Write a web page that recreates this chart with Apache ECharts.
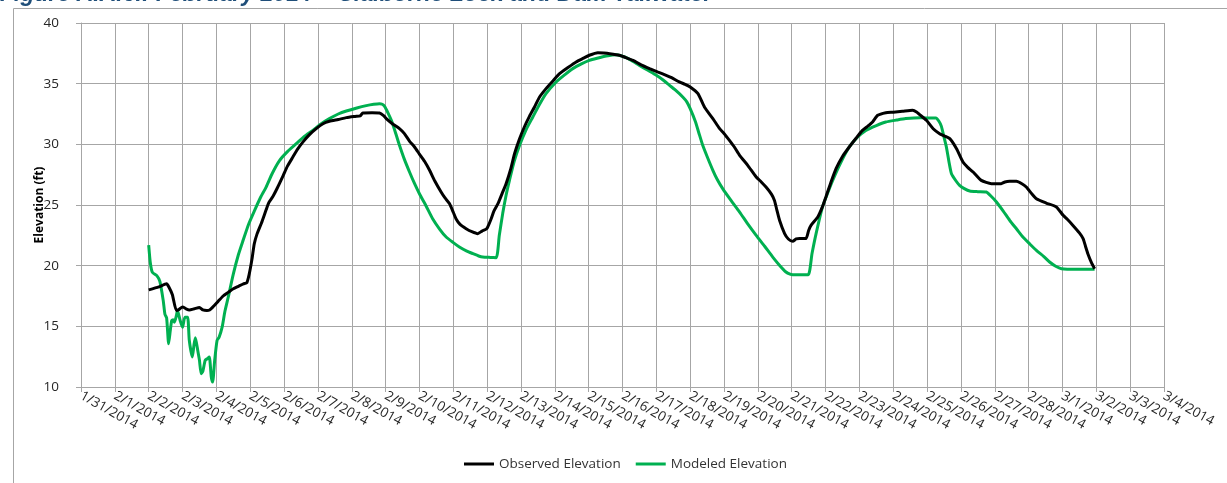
<!DOCTYPE html>
<html>
<head>
<meta charset="utf-8">
<script src="https://cdn.jsdelivr.net/npm/echarts@6/dist/echarts.min.js"></script>
<style>
html,body{margin:0;padding:0;background:#fff;}
#chart{width:1227px;height:483px;}
</style>
</head>
<body>
<div id="chart"></div>
<script>
// ---- data ----
const dateLabels = ["1/31/2014","2/1/2014","2/2/2014","2/3/2014","2/4/2014","2/5/2014","2/6/2014","2/7/2014","2/8/2014","2/9/2014","2/10/2014","2/11/2014","2/12/2014","2/13/2014","2/14/2014","2/15/2014","2/16/2014","2/17/2014","2/18/2014","2/19/2014","2/20/2014","2/21/2014","2/22/2014","2/23/2014","2/24/2014","2/25/2014","2/26/2014","2/27/2014","2/28/2014","3/1/2014","3/2/2014","3/3/2014","3/4/2014"];

const observedDays = [2.00,2.3,2.53,2.6,2.7,2.82,2.9,3.0,3.1,3.2,3.35,3.5,3.6,3.72,3.8,3.9,4.05,4.2,4.35,4.5,4.65,4.8,4.9,4.97,5.05,5.12,5.2,5.33,5.47,5.55,5.67,5.8,5.97,6.1,6.26,6.4,6.56,6.75,6.95,7.15,7.34,7.6,7.84,8.1,8.25,8.33,8.6,8.82,8.95,9.02,9.2,9.41,9.55,9.71,9.85,10.0,10.15,10.3,10.45,10.64,10.75,10.89,11.0,11.08,11.2,11.38,11.55,11.72,11.85,11.99,12.12,12.2,12.32,12.45,12.56,12.7,12.81,12.95,13.1,13.25,13.4,13.55,13.74,13.95,14.14,14.4,14.63,14.85,15.02,15.27,15.45,15.62,15.91,16.1,16.31,16.55,16.8,17.05,17.29,17.45,17.68,17.85,18.0,18.23,18.42,18.67,18.87,19.0,19.16,19.3,19.46,19.7,19.95,20.1,20.24,20.4,20.49,20.56,20.64,20.79,20.9,21.03,21.13,21.23,21.42,21.5,21.57,21.77,21.9,22.01,22.15,22.31,22.5,22.7,22.9,23.09,23.25,23.39,23.54,23.78,24.0,24.27,24.57,24.7,24.78,24.98,25.18,25.37,25.5,25.67,25.87,26.06,26.2,26.36,26.6,26.9,27.19,27.3,27.44,27.64,27.8,27.93,28.1,28.23,28.52,28.82,29.02,29.15,29.31,29.5,29.61,29.68,29.75,29.85,29.95];
const observedVals = [18.0,18.25,18.5,18.22,17.6,16.3,16.4,16.6,16.45,16.35,16.45,16.55,16.35,16.3,16.35,16.6,17.05,17.5,17.8,18.1,18.3,18.5,18.6,19.3,20.5,21.8,22.6,23.5,24.6,25.2,25.7,26.4,27.4,28.2,28.95,29.6,30.2,30.8,31.3,31.7,31.9,32.05,32.2,32.3,32.35,32.58,32.6,32.58,32.35,32.12,31.7,31.3,30.9,30.25,29.8,29.2,28.6,27.86,27.0,26.07,25.6,25.11,24.4,23.87,23.4,23.05,22.8,22.64,22.85,23.05,23.87,24.5,25.11,26.0,26.76,28.0,29.23,30.4,31.43,32.3,33.08,33.9,34.59,35.25,35.82,36.35,36.79,37.1,37.34,37.55,37.52,37.47,37.34,37.15,36.92,36.55,36.24,35.95,35.69,35.5,35.14,34.95,34.73,34.18,33.08,32.12,31.29,30.9,30.33,29.8,29.09,28.27,27.31,26.9,26.48,25.9,25.38,24.6,23.74,22.64,22.2,22.01,22.2,22.23,22.23,22.9,23.32,24.01,24.8,25.66,26.8,27.99,29.0,29.78,30.5,31.15,31.5,31.84,32.39,32.61,32.65,32.72,32.8,32.65,32.45,31.98,31.29,30.88,30.7,30.47,29.64,28.54,28.1,27.72,27.03,26.76,26.76,26.9,26.95,26.95,26.75,26.48,25.9,25.52,25.16,24.84,24.15,23.8,23.32,22.7,22.23,21.6,20.99,20.3,19.75];

const modeledDays = [2.0,2.05,2.11,2.24,2.33,2.43,2.48,2.53,2.59,2.64,2.68,2.72,2.76,2.82,2.85,2.93,3.0,3.07,3.15,3.2,3.29,3.34,3.38,3.45,3.5,3.55,3.6,3.67,3.73,3.79,3.85,3.89,3.95,4.02,4.08,4.17,4.25,4.35,4.5,4.65,4.79,4.95,5.13,5.3,5.47,5.65,5.87,6.1,6.36,6.6,6.85,7.1,7.34,7.6,7.84,8.15,8.43,8.65,8.82,8.9,8.97,9.07,9.17,9.3,9.41,9.55,9.71,9.85,10.0,10.2,10.39,10.6,10.79,11.0,11.18,11.4,11.58,11.75,11.87,12.1,12.27,12.36,12.46,12.56,12.66,12.8,12.96,13.15,13.35,13.55,13.74,14.04,14.3,14.53,14.8,15.02,15.25,15.52,15.81,15.95,16.11,16.3,16.5,16.75,17.0,17.2,17.39,17.55,17.78,17.9,18.0,18.15,18.25,18.37,18.5,18.67,18.8,18.96,19.2,19.46,19.7,19.95,20.2,20.44,20.65,20.83,20.95,21.03,21.3,21.49,21.6,21.72,21.91,22.05,22.21,22.45,22.7,22.95,23.19,23.5,23.78,24.1,24.37,24.78,25.0,25.26,25.35,25.42,25.5,25.57,25.65,25.72,25.85,25.96,26.1,26.26,26.5,26.75,26.9,27.05,27.25,27.44,27.65,27.83,28.03,28.23,28.45,28.62,28.8,28.97,29.41,29.95];
const modeledVals = [21.7,20.2,19.45,19.18,18.7,17.12,16.0,15.7,13.56,14.7,15.48,15.55,15.34,15.9,16.3,15.48,14.93,15.75,15.75,13.84,12.47,13.5,14.05,13.0,12.2,11.1,11.3,12.2,12.33,12.47,10.82,10.41,12.2,13.84,14.1,14.93,16.2,17.4,19.3,20.9,22.09,23.4,24.56,25.6,26.48,27.6,28.68,29.4,30.05,30.65,31.15,31.7,32.12,32.5,32.75,33.0,33.19,33.3,33.35,33.3,33.13,32.6,31.98,30.9,29.92,28.8,27.7,26.8,25.93,24.9,23.87,23.0,22.36,21.9,21.54,21.2,20.99,20.8,20.71,20.68,20.66,22.5,24.29,25.8,27.03,28.6,29.92,31.2,32.25,33.3,34.18,35.14,35.75,36.24,36.65,36.92,37.1,37.28,37.39,37.3,37.14,36.85,36.51,36.1,35.69,35.3,34.86,34.5,33.9,33.5,32.94,31.9,31.0,29.92,29.0,27.86,27.1,26.35,25.4,24.42,23.45,22.5,21.6,20.71,20.0,19.48,19.3,19.26,19.26,19.26,21.0,22.64,24.84,25.9,27.03,28.5,29.78,30.6,31.15,31.55,31.84,32.0,32.12,32.2,32.17,32.17,31.9,31.5,30.6,29.78,28.5,27.58,27.0,26.62,26.35,26.15,26.1,26.07,25.7,25.25,24.5,23.74,23.0,22.36,21.8,21.26,20.75,20.3,19.95,19.75,19.7,19.7];

const yTicks = [10, 15, 20, 25, 30, 35, 40];

const zip = (a, b) => a.map((x, i) => [x, b[i]]);

const chart = echarts.init(document.getElementById('chart'), null, {renderer: 'canvas'});
const font = '"Open Sans", "Liberation Sans", sans-serif';
const gridColor = '#a6a6a6';

chart.setOption({
  animation: false,
  backgroundColor: '#ffffff',
  graphic: [
    {type: 'rect', left: 11, top: 6, shape: {x: 0.5, y: 0.5, width: 1300, height: 600},
     style: {fill: 'none', stroke: '#a6a6a6', lineWidth: 1}, silent: true, z: -1},
    {type: 'text', left: 0, top: -17,
     style: {text: 'Figure A.A.6.: February 2014 \u2013 Claiborne Lock and Dam Tailwater',
             font: 'italic bold 23px "Liberation Sans", sans-serif', fill: '#1f4e79'}}
  ],
  grid: {left: 81, right: 63, top: 23, bottom: 96, containLabel: false},
  legend: {
    bottom: 7, left: 459, itemWidth: 30, itemHeight: 3, itemGap: 15,
    icon: 'rect',
    textStyle: {fontFamily: font, fontSize: 13.5, color: '#333333'},
    data: ['Observed Elevation', 'Modeled Elevation']
  },
  xAxis: {
    type: 'value', min: 0, max: dateLabels.length - 1, interval: 1,
    axisLine: {show: true, lineStyle: {color: gridColor}},
    axisTick: {show: true, length: 5, lineStyle: {color: gridColor}},
    splitLine: {show: true, lineStyle: {color: gridColor, width: 1}},
    axisLabel: {
      rotate: -29, margin: 8, fontFamily: font, fontSize: 13.5, color: '#262626',
      formatter: v => dateLabels[Math.round(v)] || ''
    }
  },
  yAxis: {
    type: 'value', min: yTicks[0], max: yTicks[yTicks.length - 1], interval: 5,
    name: 'Elevation (ft)', nameLocation: 'middle', nameGap: 35, nameRotate: 90,
    nameMoveOverlap: false,
    nameTextStyle: {fontFamily: font, fontSize: 12, fontWeight: 'bold', color: '#000'},
    axisLine: {show: true, lineStyle: {color: gridColor}},
    axisTick: {show: true, length: 5, lineStyle: {color: gridColor}},
    splitLine: {show: true, lineStyle: {color: gridColor, width: 1}},
    axisLabel: {margin: 22, fontFamily: font, fontSize: 13.5, color: '#262626'}
  },
  series: [
    {name: 'Observed Elevation', type: 'line', data: zip(observedDays, observedVals),
     showSymbol: false, smooth: 0.2, lineStyle: {color: '#000000', width: 3}, itemStyle: {color: '#000000'}, z: 3},
    {name: 'Modeled Elevation', type: 'line', data: zip(modeledDays, modeledVals),
     showSymbol: false, smooth: 0.2, lineStyle: {color: '#00b050', width: 3}, itemStyle: {color: '#00b050'}, z: 2}
  ]
});
</script>
</body>
</html>
